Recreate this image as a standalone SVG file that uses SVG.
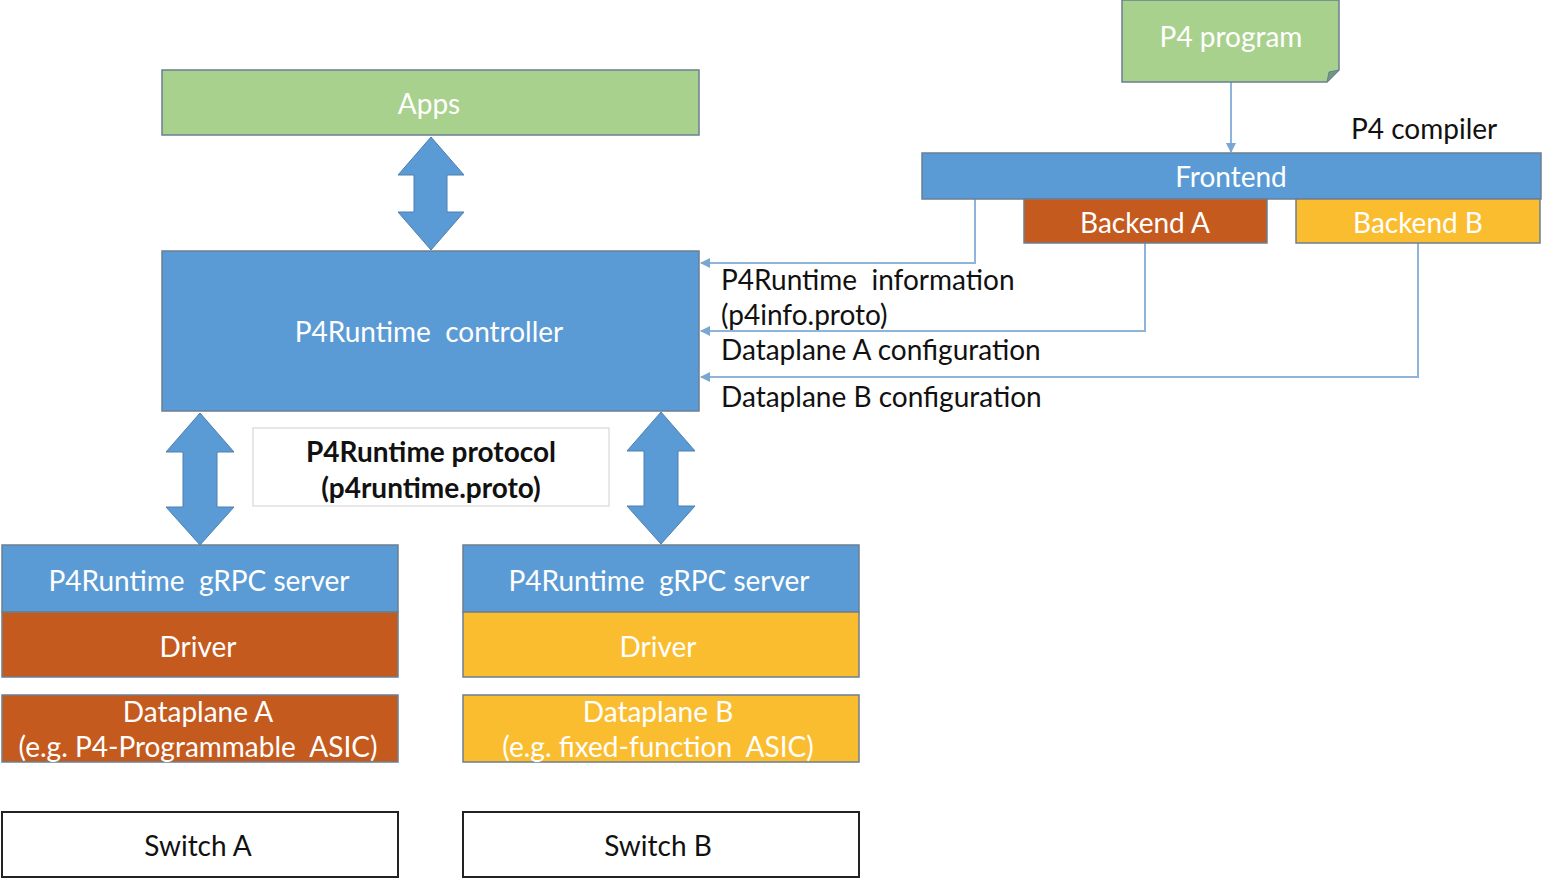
<svg xmlns="http://www.w3.org/2000/svg" width="1543" height="879" viewBox="0 0 1543 879">
  <style>
    text { font-family: Lato, "Open Sans", "Liberation Sans", sans-serif; font-size: 28px; text-anchor: middle; dominant-baseline: central; }
    .w { fill: #ffffff; }
    .k { fill: #111111; }
    .lbl { text-anchor: start; }
    .bold { font-weight: bold; }
    .box { stroke: #6b7f92; stroke-width: 1.5; }
    .blue { fill: #5b9bd5; }
    .green { fill: #a9d18e; }
    .rust { fill: #c55a1f; }
    .gold { fill: #fbbd30; }
    .dbl { fill: #5b9bd5; stroke: #4f7fae; stroke-width: 1; }
    .link { fill: none; stroke: #8fb4d9; stroke-width: 2; }
  </style>
  <defs>
    <marker id="tip" viewBox="0 0 10 10" refX="9" refY="5" markerWidth="5" markerHeight="5" orient="auto">
      <path d="M0,0 L10,5 L0,10 z" fill="#7aa6d4"/>
    </marker>
  </defs>

  <rect width="1543" height="879" fill="#ffffff"/>

  <!-- connectors -->
  <g id="connectors">
    <line class="link" x1="1231" y1="82" x2="1231" y2="152" marker-end="url(#tip)"/>
    <polyline class="link" points="975,199 975,263 701,263" marker-end="url(#tip)"/>
    <polyline class="link" points="1145,243 1145,331 701,331" marker-end="url(#tip)"/>
    <polyline class="link" points="1418,243 1418,377 701,377" marker-end="url(#tip)"/>
    <!-- block double arrows -->
    <path class="dbl" d="M431,137 L464,175 L447,175 L447,212 L464,212 L431,250 L398,212 L414,212 L414,175 L398,175 Z"/>
    <path class="dbl" d="M200,413 L234,452 L217,452 L217,507 L234,507 L200,545 L166,507 L183,507 L183,452 L166,452 Z"/>
    <path class="dbl" d="M661,412 L695,451 L678,451 L678,506 L695,506 L661,544 L627,506 L644,506 L644,451 L627,451 Z"/>
  </g>

  <g id="p4-program">
    <path class="box green" d="M1122,0 L1339,0 L1339,70 L1327,82 L1122,82 Z"/>
    <path d="M1339,70 L1327,82 L1329,72 Z" fill="#6e9a80" stroke="#6b7f92" stroke-width="1"/>
    <text class="w" x="1231" y="36">P4 program</text>
  </g>

  <g id="p4-compiler-label">
    <text class="k lbl" x="1351" y="128">P4 compiler</text>
  </g>

  <g id="frontend">
    <rect class="box blue" x="922" y="153" width="619" height="46"/>
    <text class="w" x="1231" y="176">Frontend</text>
  </g>
  <g id="backend-a">
    <rect class="box rust" x="1024" y="199" width="243" height="44"/>
    <text class="w" x="1145" y="222">Backend A</text>
  </g>
  <g id="backend-b">
    <rect class="box gold" x="1296" y="199" width="244" height="44"/>
    <text class="w" x="1418" y="222">Backend B</text>
  </g>

  <g id="config-labels">
    <text class="k lbl" x="721" y="279">P4Runtime&#160; information</text>
    <text class="k lbl" x="721" y="314">(p4info.proto)</text>
    <text class="k lbl" x="721" y="349">Dataplane A configuration</text>
    <text class="k lbl" x="721" y="396">Dataplane B configuration</text>
  </g>

  <g id="apps">
    <rect class="box green" x="162" y="70" width="537" height="65"/>
    <text class="w" x="429" y="103">Apps</text>
  </g>

  <g id="controller">
    <rect class="box blue" x="162" y="251" width="537" height="160"/>
    <text class="w" x="429" y="331">P4Runtime&#160; controller</text>
  </g>

  <g id="protocol">
    <rect x="253" y="428" width="356" height="78" fill="#ffffff" stroke="#d0d0d0" stroke-width="1"/>
    <text class="k bold" x="431" y="451">P4Runtime protocol</text>
    <text class="k bold" x="431" y="487">(p4runtime.proto)</text>
  </g>

  <g id="switch-a-stack">
    <rect class="box blue" x="2" y="545" width="396" height="67"/>
    <text class="w" x="199" y="580">P4Runtime&#160; gRPC server</text>
    <rect class="box rust" x="2" y="612" width="396" height="65"/>
    <text class="w" x="198" y="646">Driver</text>
    <rect class="box rust" x="2" y="695" width="396" height="67"/>
    <text class="w" x="198" y="711">Dataplane A</text>
    <text class="w" x="198" y="746">(e.g. P4-Programmable&#160; ASIC)</text>
  </g>

  <g id="switch-b-stack">
    <rect class="box blue" x="463" y="545" width="396" height="67"/>
    <text class="w" x="659" y="580">P4Runtime&#160; gRPC server</text>
    <rect class="box gold" x="463" y="612" width="396" height="65"/>
    <text class="w" x="658" y="646">Driver</text>
    <rect class="box gold" x="463" y="695" width="396" height="67"/>
    <text class="w" x="658" y="711">Dataplane B</text>
    <text class="w" x="658" y="746">(e.g. fixed-function&#160; ASIC)</text>
  </g>

  <g id="switch-a">
    <rect x="2" y="812" width="396" height="65" fill="#ffffff" stroke="#222222" stroke-width="2"/>
    <text class="k" x="198" y="845">Switch A</text>
  </g>
  <g id="switch-b">
    <rect x="463" y="812" width="396" height="65" fill="#ffffff" stroke="#222222" stroke-width="2"/>
    <text class="k" x="658" y="845">Switch B</text>
  </g>
</svg>
